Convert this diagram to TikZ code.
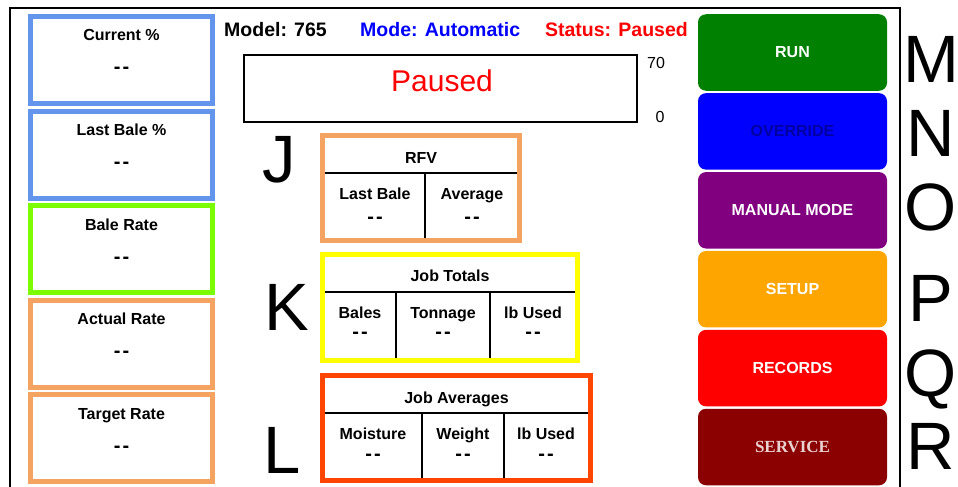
\documentclass[tikz,border=0pt]{standalone}
\usepackage{fontspec}
\setmainfont{Liberation Sans}
\newfontfamily\servicefont{Liberation Serif}
\usetikzlibrary{positioning}

\definecolor{panelblue}{HTML}{6495ED}
\definecolor{panelgreen}{HTML}{7CFC00}
\definecolor{panelorange}{HTML}{F4A460}
\definecolor{jobyellow}{HTML}{FFFF00}
\definecolor{joborange}{HTML}{FF4500}
\definecolor{btngreen}{HTML}{008000}
\definecolor{btnblue}{HTML}{0000FF}
\definecolor{btnpurple}{HTML}{800080}
\definecolor{btnorange}{HTML}{FFA500}
\definecolor{btnred}{HTML}{FF0000}
\definecolor{btnmaroon}{HTML}{8B0000}
\definecolor{overridetext}{HTML}{0000A0}
\definecolor{servicetext}{HTML}{EAD2D2}

\newcommand\emptyval{-\kern2pt-}

\begin{document}
\begin{tikzpicture}
[
    x=1pt, y=-1pt,
    panel/.style={draw, line width=5pt, minimum width=182pt, minimum height=87pt},
    button/.style={rounded corners=8pt, minimum width=189pt, minimum height=76.5pt,
        text=white, font=\bfseries\fontsize{16}{16}\selectfont},
    heading/.style={font=\bfseries\fontsize{16}{16}\selectfont, anchor=base, inner sep=0pt},
    reading/.style={font=\bfseries\fontsize{20}{20}\selectfont, anchor=base, inner sep=0pt},
    header/.style={font=\bfseries\fontsize{19.5}{19.5}\selectfont, inner sep=0pt},
    marker/.style={font=\fontsize{67}{67}\selectfont, anchor=base, inner sep=0pt},
    scale mark/.style={font=\fontsize{16}{16}\selectfont, anchor=base, inner sep=0pt},
    grid line/.style={line width=1.5pt},
]
\useasboundingbox (0,0) rectangle (958,487);
\draw[line width=1.5pt] (10,487) -- (10,8) -- (900,8) -- (900,487);

% left panels
\node[panel, draw=panelblue] (current) at (121.5,60) {};
\node[panel, draw=panelblue, below=2.5pt of current] (lastbale) {};
\node[panel, draw=panelgreen, below=2.5pt of lastbale] (balerate) {};
\node[panel, draw=panelorange, below=2.5pt of balerate] (actual) {};
\node[panel, draw=panelorange, below=2.5pt of actual] (target) {};
\node[heading] (currenttitle) at ([yshift=-27pt]current.north) {Current \%};
\node[reading] (currentval) at ([yshift=-60pt]current.north) {\emptyval};
\node[heading] (lastbaletitle) at ([yshift=-27pt]lastbale.north) {Last Bale \%};
\node[reading] (lastbaleval) at ([yshift=-60pt]lastbale.north) {\emptyval};
\node[heading] (baleratetitle) at ([yshift=-27pt]balerate.north) {Bale Rate};
\node[reading] (balerateval) at ([yshift=-60pt]balerate.north) {\emptyval};
\node[heading] (actualtitle) at ([yshift=-27pt]actual.north) {Actual Rate};
\node[reading] (actualval) at ([yshift=-60pt]actual.north) {\emptyval};
\node[heading] (targettitle) at ([yshift=-27pt]target.north) {Target Rate};
\node[reading] (targetval) at ([yshift=-60pt]target.north) {\emptyval};

% header
\node[header, anchor=base west] (model) at (224,37) {Model: 765};
\node[header, anchor=base west, text=blue] (mode) at (360,37) {Mode: Automatic};
\node[header, anchor=base east, text=red] (status) at (688,37) {Status: Paused};

% gauge
\node[draw, line width=2pt, minimum width=393pt, minimum height=67pt] (gauge) at (440.5,88.5) {};
\node[font=\fontsize{30}{30}\selectfont, text=red, anchor=base, inner sep=0pt] (gaugetext) at (442,91.5) {Paused};
\node[scale mark] (gaugemax) at (656,69) {70};
\node[scale mark] (gaugemin) at (660,122) {0};

% RFV
\draw[grid line] (325,173) -- (517,173) (425,173) -- (425,238);
\node[panel, draw=panelorange, minimum width=197pt, minimum height=105pt] (rfv) at (421,188) {};
\node[heading] (rfvtitle) at (421,163) {RFV};
\node[heading] (rfvlast) at (375,199) {Last Bale};
\node[heading] (rfvavg) at (472,199) {Average};
\node[reading] (rfvlastval) at (375,223) {\emptyval};
\node[reading] (rfvavgval) at (472,223) {\emptyval};

% job totals
\draw[grid line] (325,292) -- (575,292) (396,292) -- (396,358) (490,292) -- (490,358);
\node[panel, draw=jobyellow, minimum width=255pt, minimum height=106pt] (totals) at (450,307.5) {};
\node[heading] (totalstitle) at (450,281) {Job Totals};
\node[heading] (totalbales) at (360,318) {Bales};
\node[heading] (totaltons) at (443,318) {Tonnage};
\node[heading] (totallb) at (533,318) {lb Used};
\node[reading] (totalbalesval) at (360,338) {\emptyval};
\node[reading] (totaltonsval) at (443,338) {\emptyval};
\node[reading] (totallbval) at (533,338) {\emptyval};

% job averages
\draw[grid line] (325,413) -- (588,413) (422,413) -- (422,478) (504,413) -- (504,478);
\node[panel, draw=joborange, minimum width=268pt, minimum height=105pt] (averages) at (456.5,428) {};
\node[heading] (averagestitle) at (456.5,403) {Job Averages};
\node[heading] (avgmoist) at (373,439) {Moisture};
\node[heading] (avgweight) at (463,439) {Weight};
\node[heading] (avglb) at (546,439) {lb Used};
\node[reading] (avgmoistval) at (373,460) {\emptyval};
\node[reading] (avgweightval) at (463,460) {\emptyval};
\node[reading] (avglbval) at (546,460) {\emptyval};

% buttons
\node[button, fill=btngreen] (run) at (792.5,52.5) {RUN};
\node[button, fill=btnblue, text=overridetext, below=2pt of run] (override) {OVERRIDE};
\node[button, fill=btnpurple, below=2pt of override] (manual) {MANUAL MODE};
\node[button, fill=btnorange, below=2pt of manual] (setup) {SETUP};
\node[button, fill=btnred, below=2pt of setup] (records) {RECORDS};
\node[button, fill=btnmaroon, text=servicetext, font=\servicefont\bfseries\fontsize{17}{17}\selectfont, below=2pt of records] (service) {SERVICE};

% markers
\node[marker] (markj) at (279,182) {J};
\node[marker] (markk) at (287,330) {K};
\node[marker] (markl) at (282,473) {L};
\node[marker] (markm) at (931,82) {M};
\node[marker] (markn) at (931,156) {N};
\node[marker] (marko) at (931,230) {O};
\node[marker] (markp) at (931,321) {P};
\node[marker] (markq) at (931,396) {Q};
\node[marker] (markr) at (931,469) {R};
\end{tikzpicture}
\end{document}
